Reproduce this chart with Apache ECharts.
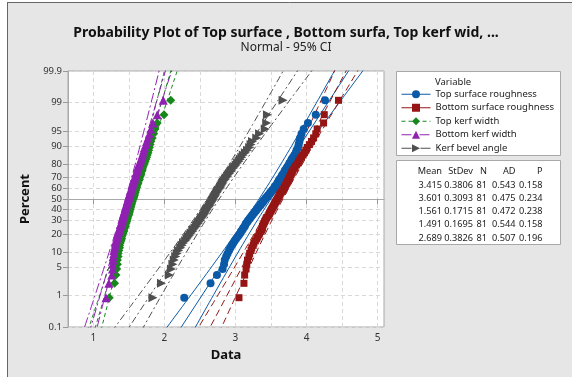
<!DOCTYPE html>
<html><head><meta charset="utf-8">
<script src="https://cdn.jsdelivr.net/npm/echarts@6/dist/echarts.min.js"></script>
<style>html,body{margin:0;padding:0;background:#fff}#c{width:572px;height:377px}</style>
</head><body><div id="c"></div><script>
// ---------- data ----------
const variables = ['Top surface roughness', 'Bottom surface roughness', 'Top kerf width', 'Bottom kerf width', 'Kerf bevel angle'];
const means = [3.415, 3.601, 1.561, 1.491, 2.689];
const stdevs = [0.3806, 0.3093, 0.1715, 0.1695, 0.3826];
const counts = [81, 81, 81, 81, 81];
const adStats = [0.543, 0.475, 0.472, 0.544, 0.507];
const pValues = [0.158, 0.234, 0.238, 0.158, 0.196];
const percentTicks = ['0.1', '1', '5', '10', '20', '30', '40', '50', '60', '70', '80', '90', '95', '99', '99.9'];
const xLabelTicks = [1, 2, 3, 4, 5];
const xGridTicks = [1, 1.5, 2, 2.5, 3, 3.5, 4, 4.5, 5];

const topSurface = [
2.28,2.65,2.74,2.82,2.84,2.85,2.87,2.89,2.91,2.93,
2.95,2.97,2.99,3.01,3.03,3.05,3.07,3.08,3.10,3.11,
3.13,3.14,3.15,3.17,3.18,3.20,3.21,3.23,3.24,3.26,
3.27,3.29,3.30,3.32,3.33,3.35,3.36,3.38,3.39,3.40,
3.42,3.43,3.45,3.46,3.48,3.49,3.51,3.52,3.54,3.55,
3.56,3.58,3.59,3.60,3.61,3.62,3.64,3.65,3.66,3.68,
3.69,3.70,3.72,3.73,3.75,3.76,3.78,3.79,3.81,3.83,
3.85,3.86,3.88,3.89,3.90,3.91,3.93,3.96,4.02,4.13,
4.26];
const bottomSurface = [
3.05,3.12,3.13,3.15,3.16,3.17,3.19,3.20,3.22,3.23,
3.25,3.26,3.28,3.30,3.31,3.33,3.34,3.36,3.37,3.38,
3.38,3.39,3.40,3.41,3.42,3.43,3.44,3.46,3.47,3.48,
3.49,3.50,3.51,3.52,3.53,3.54,3.55,3.56,3.57,3.58,
3.59,3.60,3.61,3.62,3.63,3.64,3.66,3.67,3.68,3.69,
3.70,3.71,3.72,3.73,3.74,3.75,3.76,3.77,3.78,3.79,
3.80,3.81,3.83,3.84,3.86,3.88,3.89,3.91,3.93,3.95,
3.97,3.99,4.01,4.04,4.07,4.10,4.13,4.15,4.24,4.25,
4.45];
const topKerf = [
1.225,1.30,1.32,1.33,1.34,1.34,1.35,1.35,1.36,1.37,
1.37,1.38,1.39,1.40,1.40,1.41,1.42,1.43,1.43,1.44,
1.45,1.45,1.46,1.47,1.47,1.48,1.48,1.49,1.50,1.50,
1.51,1.51,1.52,1.52,1.53,1.53,1.54,1.54,1.55,1.55,
1.56,1.57,1.57,1.58,1.58,1.59,1.59,1.60,1.60,1.61,
1.61,1.62,1.63,1.63,1.64,1.65,1.65,1.66,1.67,1.67,
1.68,1.69,1.69,1.70,1.71,1.72,1.73,1.74,1.75,1.76,
1.77,1.78,1.79,1.80,1.81,1.83,1.85,1.87,1.90,1.995,
2.09];
const bottomKerf = [
1.18,1.22,1.26,1.27,1.27,1.28,1.28,1.29,1.29,1.30,
1.31,1.31,1.32,1.33,1.34,1.34,1.35,1.36,1.37,1.37,
1.38,1.39,1.39,1.40,1.41,1.41,1.42,1.42,1.43,1.43,
1.44,1.44,1.45,1.45,1.46,1.46,1.47,1.48,1.48,1.49,
1.49,1.50,1.50,1.51,1.51,1.52,1.52,1.53,1.54,1.54,
1.55,1.55,1.56,1.56,1.57,1.58,1.58,1.59,1.60,1.60,
1.61,1.62,1.62,1.63,1.64,1.65,1.66,1.67,1.68,1.69,
1.70,1.71,1.72,1.74,1.75,1.77,1.79,1.81,1.84,1.90,
1.985];
const bevelAngle = [
1.84,1.96,2.07,2.10,2.12,2.14,2.16,2.18,2.20,2.23,
2.25,2.27,2.30,2.32,2.34,2.36,2.38,2.40,2.41,2.43,
2.45,2.46,2.48,2.49,2.51,2.52,2.53,2.55,2.56,2.57,
2.58,2.59,2.60,2.61,2.63,2.64,2.65,2.66,2.67,2.68,
2.69,2.70,2.71,2.72,2.73,2.74,2.75,2.76,2.78,2.79,
2.80,2.81,2.82,2.83,2.84,2.86,2.87,2.89,2.90,2.92,
2.94,2.95,2.97,2.99,3.01,3.03,3.05,3.07,3.09,3.11,
3.14,3.17,3.20,3.22,3.24,3.30,3.34,3.42,3.44,3.45,
3.67];
const seriesValues = [topSurface, bottomSurface, topKerf, bottomKerf, bevelAngle];

// ---------- style ----------
const colors = ['#0b5aa8', '#951515', '#17871b', '#9020b2', '#4f4f4f'];
const symbols = ['circle', 'rect', 'diamond', 'triangle', 'triangle'];
const symbolRot = [0, 0, 0, 0, -90];
const symbolSizes = [8, 7, 9, 9, 9];
const dashes = ['solid', [7, 4], [4, 3], [10, 3, 2, 3], [7, 3, 2, 3]];
const legendDashes = ['solid', 'solid', [4, 3], [10, 3, 2, 3], [10, 3, 3, 3]];
const FONT = 'Noto Sans';
const SMALL = 9.5;

// normal quantile (probability scale transform)
function probit(p) {
  const a=[-39.69683028665376,220.9460984245205,-275.9285104469687,138.3577518672690,-30.66479806614716,2.506628277459239];
  const b=[-54.47609879822406,161.5858368580409,-155.6989798598866,66.80131188771972,-13.28068155288572];
  const c=[-0.007784894002430293,-0.3223964580411365,-2.400758277161838,-2.549732539343734,4.374664141464968,2.938163982698783];
  const d=[0.007784695709041462,0.3224671290700398,2.445134137142996,3.754408661907416];
  const pl=0.02425, ph=1-pl; let q, r;
  if (p < pl) { q=Math.sqrt(-2*Math.log(p)); return (((((c[0]*q+c[1])*q+c[2])*q+c[3])*q+c[4])*q+c[5])/((((d[0]*q+d[1])*q+d[2])*q+d[3])*q+1); }
  if (p <= ph) { q=p-0.5; r=q*q; return (((((a[0]*r+a[1])*r+a[2])*r+a[3])*r+a[4])*r+a[5])*q/(((((b[0]*r+b[1])*r+b[2])*r+b[3])*r+b[4])*r+1); }
  q=Math.sqrt(-2*Math.log(1-p)); return -(((((c[0]*q+c[1])*q+c[2])*q+c[3])*q+c[4])*q+c[5])/((((d[0]*q+d[1])*q+d[2])*q+d[3])*q+1);
}
const zTicks = percentTicks.map(t => probit(parseFloat(t) / 100));
const zMin = zTicks[0], zMax = zTicks[zTicks.length - 1];

const series = [];
variables.forEach((name, k) => {
  const mu = means[k], sd = stdevs[k], n = counts[k];
  const ls = { color: colors[k], width: 1, type: dashes[k] };
  const common = { name, type: 'line', xAxisIndex: 0, yAxisIndex: 0, symbol: symbols[k], symbolRotate: symbolRot[k],
    showSymbol: false, silent: true, animation: false, clip: true, itemStyle: { color: colors[k] }, lineStyle: ls, z: 2 };
  // fitted line
  series.push(Object.assign({}, common, { data: [[mu + sd * (zMin - 0.2), zMin - 0.2], [mu + sd * (zMax + 0.2), zMax + 0.2]] }));
  // 95% CI bands
  const lo = [], hi = [];
  for (let i = 0; i <= 70; i++) {
    const z = -3.5 + i * 0.1;
    const h = 1.96 * sd * Math.sqrt((1 + z * z / 2) / n);
    lo.push([mu + sd * z - h, z]); hi.push([mu + sd * z + h, z]);
  }
  series.push(Object.assign({}, common, { data: lo }));
  series.push(Object.assign({}, common, { data: hi }));
});
variables.forEach((name, k) => {
  const vals = seriesValues[k], n = vals.length;
  series.push({ name, type: 'scatter', symbol: symbols[k], symbolRotate: symbolRot[k], symbolSize: symbolSizes[k],
    itemStyle: { color: colors[k], opacity: 1 }, animation: false, z: 3,
    data: vals.map((v, i) => [v, probit((i + 1 - 0.3) / (n + 0.4))]) });
});

// ---------- graphic: frame, legend boxes, stats table ----------
const TF = SMALL + 'px "' + FONT + '"';
const TF2 = '9.2px "' + FONT + '"';
const graphic = [
  { type: 'rect', shape: { x: 0, y: 0, width: 572, height: 2 }, style: { fill: '#fff' }, z: -10, silent: true },
  { type: 'rect', shape: { x: 0, y: 0, width: 7, height: 377 }, style: { fill: '#fff' }, z: -10, silent: true },
  { type: 'line', shape: { x1: 7, y1: 2.5, x2: 572, y2: 2.5 }, style: { stroke: '#666', lineWidth: 1 }, silent: true },
  { type: 'line', shape: { x1: 7.5, y1: 2, x2: 7.5, y2: 377 }, style: { stroke: '#666', lineWidth: 1 }, silent: true },
  { type: 'rect', shape: { x: 396.5, y: 71.5, width: 164, height: 84 }, style: { fill: '#fff', stroke: '#a8a8a8', lineWidth: 1 }, z: 0, silent: true },
  { type: 'rect', shape: { x: 396.5, y: 160.5, width: 164, height: 84 }, style: { fill: '#fff', stroke: '#a8a8a8', lineWidth: 1 }, z: 0, silent: true },
  { type: 'text', x: 435, y: 82, style: { text: 'Variable', font: TF, fill: '#222', textVerticalAlign: 'middle' }, z: 5, silent: true }
];
const colRight = [442, 473, 487, 515.5, 542.5];
const headers = ['Mean', 'StDev', 'N', 'AD', 'P'];
headers.forEach((h, j) => graphic.push({ type: 'text', x: colRight[j], y: 171,
  style: { text: h, font: TF2, fill: '#222', textAlign: 'right', textVerticalAlign: 'middle' }, z: 5, silent: true }));
const rowY = [185, 198.2, 211.5, 224.7, 238];
variables.forEach((v, k) => {
  const cells = [means[k].toFixed(3), stdevs[k].toFixed(4), String(counts[k]), adStats[k].toFixed(3), pValues[k].toFixed(3)];
  cells.forEach((t, j) => graphic.push({ type: 'text', x: colRight[j], y: rowY[k],
    style: { text: t, font: TF2, fill: '#222', textAlign: 'right', textVerticalAlign: 'middle' }, z: 5, silent: true }));
});

const chart = echarts.init(document.getElementById('c'), null, { renderer: 'canvas' });
chart.setOption({
  backgroundColor: '#e6e6e6',
  animation: false,
  textStyle: { fontFamily: FONT },
  title: {
    text: 'Probability Plot of Top surface , Bottom surfa, Top kerf wid, ...',
    subtext: 'Normal - 95% CI',
    left: 'center', top: 21, itemGap: 2,
    textStyle: { fontSize: 14, fontWeight: 'bold', color: '#111', fontFamily: FONT },
    subtextStyle: { fontSize: 12, color: '#222', fontFamily: FONT }
  },
  legend: {
    data: variables.map((v, k) => ({ name: v, lineStyle: { type: legendDashes[k], width: 1 } })),
    orient: 'vertical', left: 401, top: 88, padding: 0, itemWidth: 29, itemHeight: 10, itemGap: 1,
    textStyle: { fontSize: SMALL, color: '#222', fontFamily: FONT, lineHeight: 12.5 }, selectedMode: false, z: 6
  },
  grid: { left: 68, top: 71, right: 188, bottom: 50, show: true, backgroundColor: '#fff', borderColor: '#a8a8a8', borderWidth: 1 },
  xAxis: [{
    type: 'value', min: 0.645, max: 5.09, name: 'Data', nameLocation: 'middle', nameGap: 22,
    nameTextStyle: { fontSize: 13, fontWeight: 'bold', color: '#111', fontFamily: FONT },
    axisLine: { show: true, lineStyle: { color: '#a8a8a8' } },
    axisTick: { show: true, length: 5, customValues: xLabelTicks, lineStyle: { color: '#999' } },
    axisLabel: { customValues: xLabelTicks, fontSize: 10, color: '#333', margin: 6 },
    splitLine: { show: false }
  }, {
    type: 'value', min: 0.645, max: 5.09, position: 'bottom',
    axisLine: { show: false }, axisTick: { show: false, customValues: xGridTicks }, axisLabel: { show: false },
    splitLine: { show: true, lineStyle: { color: '#d9d9d9', type: [4, 3] } }
  }],
  yAxis: {
    type: 'value', min: zMin, max: zMax, name: 'Percent', nameLocation: 'middle', nameGap: 26,
    nameTextStyle: { fontSize: 13, fontWeight: 'bold', color: '#111', fontFamily: FONT },
    axisLine: { show: true, lineStyle: { color: '#a8a8a8' } },
    axisTick: { show: true, length: 5, customValues: zTicks, lineStyle: { color: '#999' } },
    axisLabel: { customValues: zTicks, fontSize: SMALL, color: '#333', margin: 6,
      formatter: v => { let best = 0; zTicks.forEach((z, i) => { if (Math.abs(z - v) < Math.abs(zTicks[best] - v)) best = i; }); return percentTicks[best]; } },
    splitLine: { show: true, lineStyle: { color: '#d9d9d9', type: [4, 3] } }
  },
  graphic,
  series
});
</script></body></html>
